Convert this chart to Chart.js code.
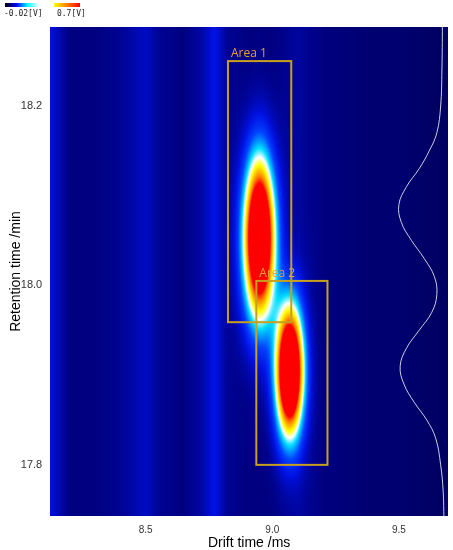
<!DOCTYPE html>
<html><head><meta charset="utf-8">
<script src="https://cdn.jsdelivr.net/npm/chart.js@4"></script>
<style>html,body{margin:0;background:#fff;}#wrap{position:relative;width:453px;height:550px;}
.bar{position:absolute;top:3px;height:4px;}</style></head>
<body><div id="wrap"><canvas id="c" width="453" height="550"></canvas>
<div class="bar" style="left:5px;width:34px;background:linear-gradient(90deg,#000,#00f,#0ff,#fff)"></div>
<div class="bar" style="left:54px;width:26px;background:linear-gradient(90deg,#ff0,#f00)"></div>
<div style="position:absolute;left:4px;top:9px;font:8px 'DejaVu Sans Mono',monospace;color:#222">-0.02[V]&nbsp;&nbsp;&nbsp;0.7[V]</div>
</div>
<script>
const yTicks=[17.8,18.0,18.2];
const xTicks=[8.5,9.0,9.5];
const bgDrift=[8.12,8.15,8.2,8.3,8.4,8.5,8.55,8.65,8.72,8.77,8.82,8.9,9.0,9.1,9.2,9.3,9.4,9.5,9.6,9.7];
const bgLevel=[0.2,0.16,0.1,0.1,0.12,0.17,0.12,0.1,0.14,0.21,0.12,0.1,0.1,0.13,0.1,0.09,0.08,0.08,0.07,0.06];
const peakDrift=[8.948,9.067];
const peakRt=[18.053,17.905];
const peakSx=[0.043,0.038];
const peakSy=[0.062,0.05];
const peakAmp=[1.3,1.3];
const areaNames=['Area 1','Area 2'];
const areaX0=[8.825,8.937],areaX1=[9.075,9.218],areaY0=[17.959,17.8],areaY1=[18.25,18.005];
const profRt=[18.29,18.24,18.2,18.17,18.15,18.13,18.11,18.09,18.07,18.05,18.03,18.01,17.99,17.97,17.95,17.93,17.91,17.89,17.87,17.85,17.83,17.8,17.77,17.74];
const profX=[9.672,9.67,9.665,9.65,9.62,9.58,9.53,9.5,9.51,9.55,9.6,9.64,9.65,9.63,9.58,9.53,9.505,9.52,9.56,9.61,9.645,9.665,9.675,9.678];
const stops=[[0,[0,0,48]],[0.1,[0,0,128]],[0.2,[0,16,224]],[0.3,[0,64,255]],[0.45,[0,224,255]],[0.55,[255,255,255]],[0.65,[255,255,0]],[0.8,[255,128,0]],[0.9,[255,0,0]],[1,[255,0,0]]];
function cmap(v){v=Math.max(0,Math.min(1,v));for(let i=1;i<stops.length;i++){if(v<=stops[i][0]){const a=stops[i-1],b=stops[i],t=(v-a[0])/(b[0]-a[0]);return a[1].map((c,k)=>c+(b[1][k]-c)*t);}}return stops[stops.length-1][1];}
function bg(x){for(let i=1;i<bgDrift.length;i++){if(x<=bgDrift[i]){const t=(x-bgDrift[i-1])/(bgDrift[i]-bgDrift[i-1]);return bgLevel[i-1]+(bgLevel[i]-bgLevel[i-1])*t;}}return bgLevel[bgLevel.length-1];}
const heat={id:'heat',beforeDatasetsDraw(ch){const {ctx,chartArea:a,scales:{x,y}}=ch;const w=Math.round(a.right-a.left),h=Math.round(a.bottom-a.top);
const img=ctx.createImageData(w,h);for(let j=0;j<h;j++){const rt=y.getValueForPixel(a.top+j);for(let i=0;i<w;i++){const d=x.getValueForPixel(a.left+i);let v=bg(d);
for(let p=0;p<peakDrift.length;p++){const dx=(d-peakDrift[p])/peakSx[p],dy=(rt-peakRt[p])/peakSy[p];v+=peakAmp[p]*Math.exp(-(dx*dx+dy*dy)/2);}
const c=cmap(v),o=(j*w+i)*4;img.data[o]=c[0];img.data[o+1]=c[1];img.data[o+2]=c[2];img.data[o+3]=255;}}
ctx.putImageData(img,a.left,a.top);
ctx.save();ctx.strokeStyle='#c8a020';ctx.lineWidth=2;ctx.fillStyle='#e8a030';ctx.font='12px "Open Sans"';
for(let k=0;k<areaNames.length;k++){const x0=x.getPixelForValue(areaX0[k]),x1=x.getPixelForValue(areaX1[k]),y0=y.getPixelForValue(areaY1[k]),y1=y.getPixelForValue(areaY0[k]);
ctx.strokeRect(x0,y0,x1-x0,y1-y0);ctx.fillText(areaNames[k],x0+3,y0-4);}ctx.restore();}};
new Chart(document.getElementById('c'),{type:'scatter',
data:{datasets:[{data:profRt.map((r,i)=>({x:profX[i],y:r})),showLine:true,borderColor:'rgba(255,255,255,0.8)',borderWidth:1,pointRadius:0,tension:0.4}]},
options:{responsive:false,animation:false,layout:{padding:{top:27,right:5,left:8,bottom:0}},plugins:{legend:{display:false},tooltip:{enabled:false}},
scales:{x:{min:8.123,max:9.694,grid:{display:false},border:{display:false},afterBuildTicks:s=>{s.ticks=xTicks.map(v=>({value:v}));},ticks:{padding:0,callback:v=>v.toFixed(1),color:'#333',font:{size:10}},title:{display:true,text:'Drift time /ms',color:'#000',font:{size:14,lineHeight:1},padding:{top:0,bottom:0}}},
y:{min:17.743,max:18.288,grid:{display:false},border:{display:false},afterBuildTicks:s=>{s.ticks=yTicks.map(v=>({value:v}));},ticks:{padding:0,callback:v=>v.toFixed(1),color:'#333',font:{size:11}},title:{display:true,text:'Retention time /min',color:'#000',font:{size:14},padding:{top:0,bottom:-4}}}}},
plugins:[heat]});
</script></body></html>
